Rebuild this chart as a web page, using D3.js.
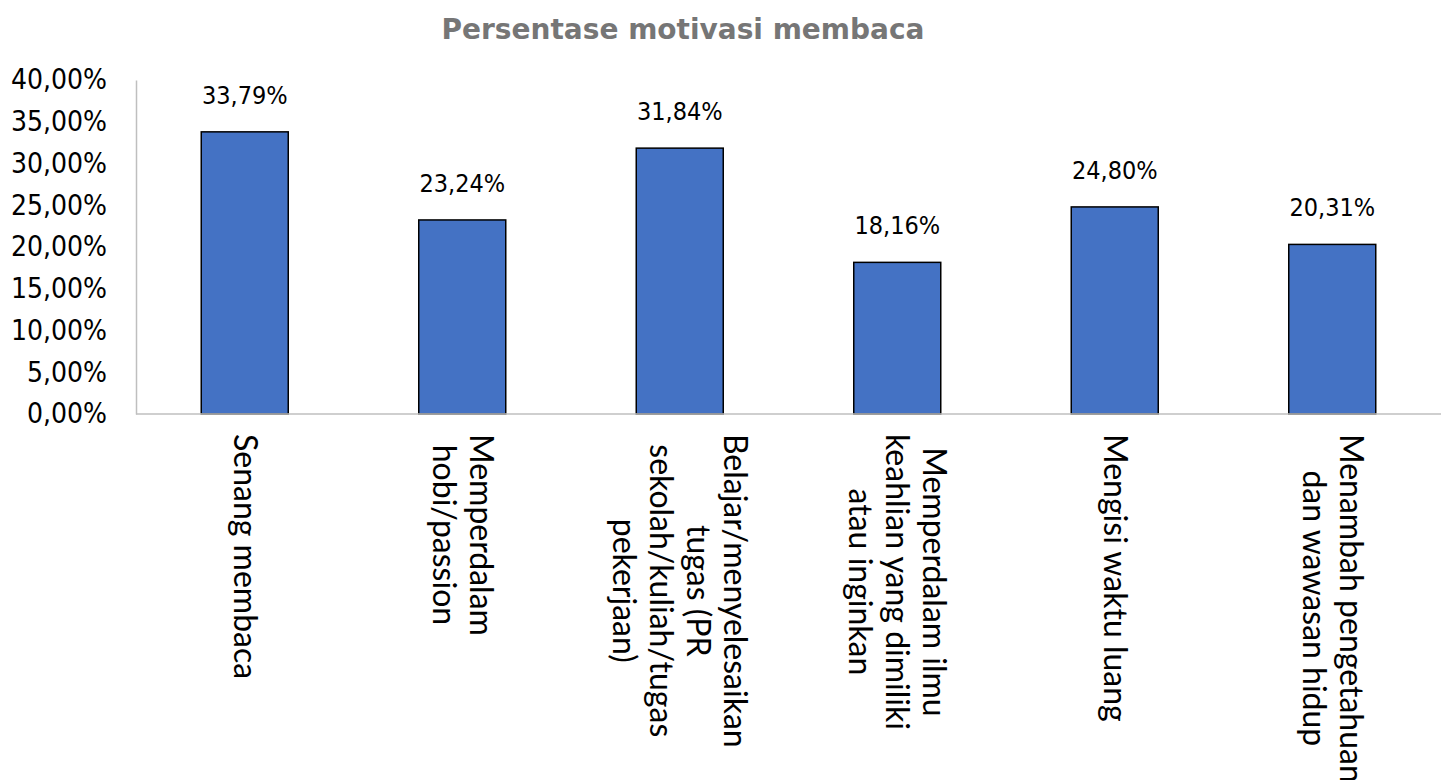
<!DOCTYPE html>
<html>
  <head>
    <meta charset="utf-8">
    <title>Persentase motivasi membaca</title>
    <script src="https://cdn.jsdelivr.net/npm/d3@7" charset="utf-8"></script>
    <style>
      body { margin: 0; background: #fff; }
      svg { display: block; }
    </style>
  </head>
  <body>
    <div id="main"></div>
  <script>
    // category labels, already wrapped the way the original chart wraps them
    var categories = [
      ['Senang membaca'],
      ['Memperdalam', 'hobi/passion'],
      ['Belajar/menyelesaikan', 'tugas (PR', 'sekolah/kuliah/tugas', 'pekerjaan)'],
      ['Memperdalam ilmu', 'keahlian yang dimiliki', 'atau inginkan'],
      ['Mengisi waktu luang'],
      ['Menambah pengetahuan', 'dan wawasan hidup']
    ];
    var values = [33.79, 23.24, 31.84, 18.16, 24.80, 20.31];
    var yTicks = [0, 5, 10, 15, 20, 25, 30, 35, 40];

    var svgWidth = 1450;
    var svgHeight = 780;
    var margin = { top: 80, left: 136, right: 9, bottom: 366 };

    // indonesian number format: comma as decimal separator
    var fmt = function(v) { return v.toFixed(2).replace('.', ',') + '%'; };

    var svg = d3.select('#main')
      .append('svg')
      .attr('width', svgWidth)
      .attr('height', svgHeight);

    var x = d3.scaleBand()
      .domain(d3.range(categories.length))
      .range([margin.left, svgWidth - margin.right])
      .paddingInner(0.6)
      .paddingOuter(0.3);

    var y = d3.scaleLinear()
      .domain([0, 40])
      .range([svgHeight - margin.bottom, margin.top]);

    // title
    svg.append('text')
      .attr('x', 683)
      .attr('y', 39)
      .attr('text-anchor', 'middle')
      .style('font-family', '"DejaVu Sans", sans-serif')
      .style('font-weight', 'bold')
      .style('font-size', '28px')
      .style('fill', '#767676')
      .text('Persentase motivasi membaca');

    // y axis
    var yAxis = d3.axisLeft(y)
      .tickValues(yTicks)
      .tickSize(0)
      .tickPadding(29)
      .tickFormat(fmt);

    var gy = svg.append('g')
      .attr('transform', 'translate(' + margin.left + ',0)')
      .call(yAxis);
    gy.select('.domain').attr('stroke', '#bfbfbf').attr('stroke-width', 1.5);
    gy.selectAll('text')
      .style('font-family', '"DejaVu Sans Condensed", "DejaVu Sans", sans-serif')
      .style('font-size', '28px')
      .style('fill', '#000');

    // bars
    svg.selectAll('rect.bar')
      .data(values)
      .enter()
      .append('rect')
      .attr('class', 'bar')
      .attr('x', function(d, i) { return x(i); })
      .attr('y', function(d) { return y(d); })
      .attr('width', x.bandwidth())
      .attr('height', function(d) { return y(0) - y(d); })
      .attr('fill', '#4472c4')
      .attr('stroke', '#000')
      .attr('stroke-width', 1.5);

    // baseline drawn over the bars
    svg.append('line')
      .attr('x1', margin.left)
      .attr('x2', svgWidth - margin.right)
      .attr('y1', y(0))
      .attr('y2', y(0))
      .attr('stroke', '#bfbfbf')
      .attr('stroke-width', 1.5);

    // value labels
    svg.selectAll('text.val')
      .data(values)
      .enter()
      .append('text')
      .attr('class', 'val')
      .attr('x', function(d, i) { return x(i) + x.bandwidth() / 2; })
      .attr('y', function(d) { return y(d) - 28; })
      .attr('text-anchor', 'middle')
      .style('font-family', '"DejaVu Sans Condensed", "DejaVu Sans", sans-serif')
      .style('font-size', '25px')
      .text(fmt);

    // category labels, rotated 90 degrees, lines centred on the longest one
    var lineGap = 37;
    var labelTop = y(0) + 20;
    svg.selectAll('g.cat')
      .data(categories)
      .enter()
      .append('g')
      .attr('class', 'cat')
      .each(function(lines, i) {
        var g = d3.select(this);
        var cx = x(i) + x.bandwidth() / 2;
        var t = g.append('text')
          .style('font-family', 'Lato, "Open Sans", sans-serif')
          .style('font-size', '32px')
          .attr('text-anchor', 'middle');
        var spans = t.selectAll('tspan')
          .data(lines)
          .enter()
          .append('tspan')
          .text(function(d) { return d; });
        var maxLen = d3.max(spans.nodes(), function(n) { return n.getComputedTextLength(); });
        var n = lines.length;
        // first line ends up rightmost after the rotation
        spans
          .attr('x', labelTop + maxLen / 2)
          .attr('y', function(d, k) { return -cx + (k - (n - 1) / 2) * lineGap + 11; });
        t.attr('transform', 'rotate(90)');
      });
  </script>
  </body>
</html>
